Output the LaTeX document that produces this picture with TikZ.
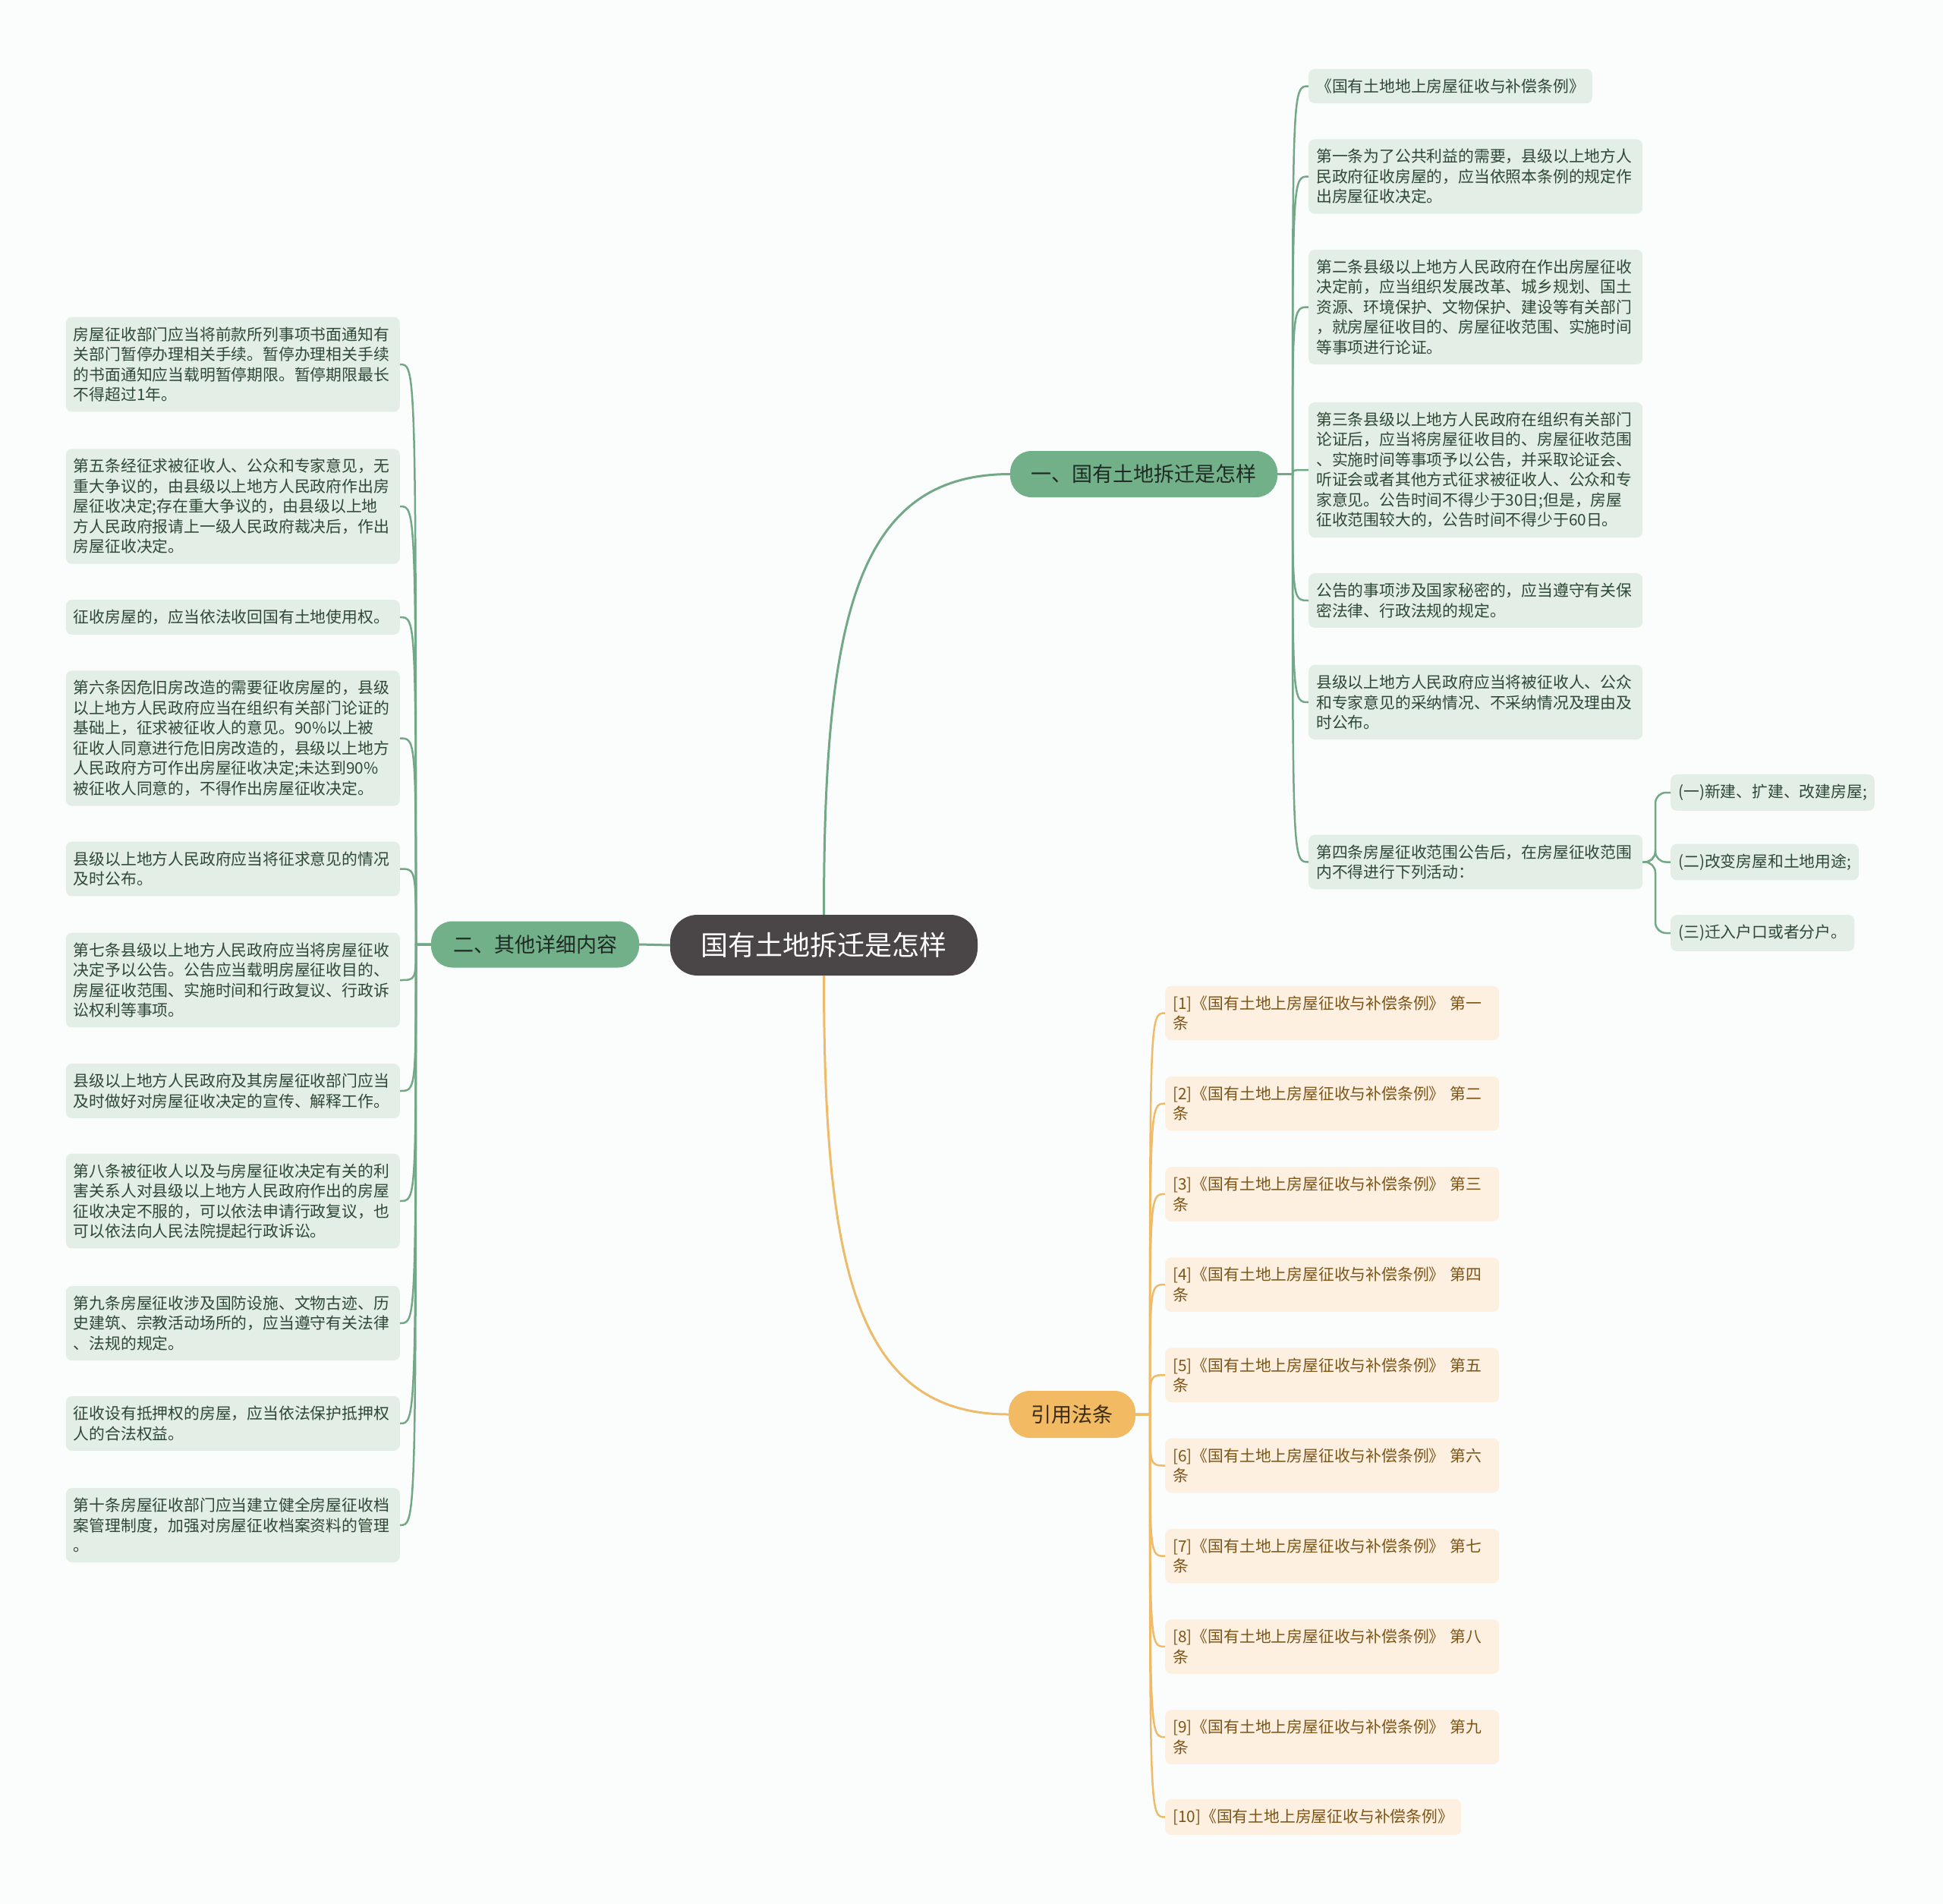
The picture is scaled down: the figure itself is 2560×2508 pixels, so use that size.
\documentclass[tikz,border=0pt]{standalone}
\usepackage{fontspec}
\setmainfont{Noto Sans CJK SC}
\usetikzlibrary{calc}
\definecolor{bgc}{HTML}{FBFDFD}
\definecolor{rootc}{HTML}{4A4546}
\definecolor{gbr}{HTML}{72B08A}
\definecolor{gln}{HTML}{72A886}
\definecolor{glf}{HTML}{E3EFE6}
\definecolor{gtx}{HTML}{2E4736}
\definecolor{gbrtx}{HTML}{1E2A22}
\definecolor{obr}{HTML}{F1BA63}
\definecolor{oln}{HTML}{EDBB6A}
\definecolor{olf}{HTML}{FDF0E1}
\definecolor{otx}{HTML}{7C5516}
\definecolor{obrtx}{HTML}{3B2B12}
\tikzset{
  rootnode/.style={fill=rootc, text=white, rounded corners=36pt, minimum height=80pt, inner xsep=0pt, inner ysep=0pt, font=\fontsize{36}{40}\selectfont},
  gbranch/.style={fill=gbr, text=gbrtx, rounded corners=28pt, minimum height=61pt, inner sep=0pt, font=\fontsize{27}{30}\selectfont},
  obranch/.style={fill=obr, text=obrtx, rounded corners=28pt, minimum height=62pt, inner sep=0pt, font=\fontsize{27}{30}\selectfont},
  leafbase/.style={rounded corners=8pt, inner xsep=10pt, inner ysep=13pt, align=left, font=\fontsize{20.8}{26.5}\selectfont},
  gleaf/.style={leafbase, fill=glf, text=gtx, text width=420pt},
  gleafnt/.style={leafbase, fill=glf, text=gtx},
  oleaf/.style={leafbase, fill=olf, text=otx, text width=420pt},
  oleafnt/.style={leafbase, fill=olf, text=otx},
  gmain/.style={draw=gln, line width=3pt},
  omain/.style={draw=oln, line width=3pt},
  gline/.style={draw=gln, line width=2.5pt},
  oline/.style={draw=oln, line width=2.5pt},
}
\begin{document}
\begin{tikzpicture}[x=1pt,y=-1pt]
\fill[bgc] (0,0) rectangle (2560,2508);
\useasboundingbox (0,0) rectangle (2560,2508);

% root and branches
\node[rootnode, minimum width=405pt] (root) at (1085.5,1245) {国有土地拆迁是怎样};
\node[gbranch, minimum width=352pt] (b1) at (1507,624.5) {一、国有土地拆迁是怎样};
\node[gbranch, minimum width=274pt] (b2) at (705,1244) {二、其他详细内容};
\node[obranch, minimum width=167pt] (b3) at (1412.5,1863) {引用法条};

\coordinate (j1) at (1703,624.5);
\coordinate (j2) at (548,1244);
\coordinate (j3) at (1515,1863);
\coordinate (k1) at (2181,1135.5);

% right green leaves
\node[gleafnt, anchor=west] (r1) at (1724,113.5) {《国有土地地上房屋征收与补偿条例》};
\node[gleaf, anchor=west] (r2) at (1724,232.5) {第一条为了公共利益的需要，县级以上地方人\\民政府征收房屋的，应当依照本条例的规定作\\出房屋征收决定。};
\node[gleaf, anchor=west] (r3) at (1724,404.5) {第二条县级以上地方人民政府在作出房屋征收\\决定前，应当组织发展改革、城乡规划、国土\\资源、环境保护、文物保护、建设等有关部门\\，就房屋征收目的、房屋征收范围、实施时间\\等事项进行论证。};
\node[gleaf, anchor=west] (r4) at (1724,619) {第三条县级以上地方人民政府在组织有关部门\\论证后，应当将房屋征收目的、房屋征收范围\\、实施时间等事项予以公告，并采取论证会、\\听证会或者其他方式征求被征收人、公众和专\\家意见。公告时间不得少于30日;但是，房屋\\征收范围较大的，公告时间不得少于60日。};
\node[gleaf, anchor=west] (r5) at (1724,791) {公告的事项涉及国家秘密的，应当遵守有关保\\密法律、行政法规的规定。};
\node[gleaf, anchor=west] (r6) at (1724,925) {县级以上地方人民政府应当将被征收人、公众\\和专家意见的采纳情况、不采纳情况及理由及\\时公布。};
\node[gleaf, anchor=west] (r7) at (1724,1135.5) {第四条房屋征收范围公告后，在房屋征收范围\\内不得进行下列活动：};

\node[gleafnt, anchor=west] (s1) at (2201,1044) {(一)新建、扩建、改建房屋;};
\node[gleafnt, anchor=west] (s2) at (2201,1135.5) {(二)改变房屋和土地用途;};
\node[gleafnt, anchor=west] (s3) at (2201,1229) {(三)迁入户口或者分户。};

% left green leaves
\node[gleaf, anchor=east] (l1) at (527,480) {房屋征收部门应当将前款所列事项书面通知有\\关部门暂停办理相关手续。暂停办理相关手续\\的书面通知应当载明暂停期限。暂停期限最长\\不得超过1年。};
\node[gleaf, anchor=east] (l2) at (527,667) {第五条经征求被征收人、公众和专家意见，无\\重大争议的，由县级以上地方人民政府作出房\\屋征收决定;存在重大争议的，由县级以上地\\方人民政府报请上一级人民政府裁决后，作出\\房屋征收决定。};
\node[gleaf, anchor=east] (l3) at (527,813) {征收房屋的，应当依法收回国有土地使用权。};
\node[gleaf, anchor=east] (l4) at (527,972.5) {第六条因危旧房改造的需要征收房屋的，县级\\以上地方人民政府应当在组织有关部门论证的\\基础上，征求被征收人的意见。90\%以上被\\征收人同意进行危旧房改造的，县级以上地方\\人民政府方可作出房屋征收决定;未达到90\%\\被征收人同意的，不得作出房屋征收决定。};
\node[gleaf, anchor=east] (l5) at (527,1144.5) {县级以上地方人民政府应当将征求意见的情况\\及时公布。};
\node[gleaf, anchor=east] (l6) at (527,1291) {第七条县级以上地方人民政府应当将房屋征收\\决定予以公告。公告应当载明房屋征收目的、\\房屋征收范围、实施时间和行政复议、行政诉\\讼权利等事项。};
\node[gleaf, anchor=east] (l7) at (527,1437) {县级以上地方人民政府及其房屋征收部门应当\\及时做好对房屋征收决定的宣传、解释工作。};
\node[gleaf, anchor=east] (l8) at (527,1582) {第八条被征收人以及与房屋征收决定有关的利\\害关系人对县级以上地方人民政府作出的房屋\\征收决定不服的，可以依法申请行政复议，也\\可以依法向人民法院提起行政诉讼。};
\node[gleaf, anchor=east] (l9) at (527,1743) {第九条房屋征收涉及国防设施、文物古迹、历\\史建筑、宗教活动场所的，应当遵守有关法律\\、法规的规定。};
\node[gleaf, anchor=east] (l10) at (527,1875) {征收设有抵押权的房屋，应当依法保护抵押权\\人的合法权益。};
\node[gleaf, anchor=east] (l11) at (527,2009) {第十条房屋征收部门应当建立健全房屋征收档\\案管理制度，加强对房屋征收档案资料的管理\\。};

% orange leaves
\node[oleaf, anchor=west] (o1) at (1535,1334.5) {[1]《国有土地上房屋征收与补偿条例》 第一\\条};
\node[oleaf, anchor=west] (o2) at (1535,1453.7) {[2]《国有土地上房屋征收与补偿条例》 第二\\条};
\node[oleaf, anchor=west] (o3) at (1535,1572.9) {[3]《国有土地上房屋征收与补偿条例》 第三\\条};
\node[oleaf, anchor=west] (o4) at (1535,1692.1) {[4]《国有土地上房屋征收与补偿条例》 第四\\条};
\node[oleaf, anchor=west] (o5) at (1535,1811.3) {[5]《国有土地上房屋征收与补偿条例》 第五\\条};
\node[oleaf, anchor=west] (o6) at (1535,1930.5) {[6]《国有土地上房屋征收与补偿条例》 第六\\条};
\node[oleaf, anchor=west] (o7) at (1535,2049.7) {[7]《国有土地上房屋征收与补偿条例》 第七\\条};
\node[oleaf, anchor=west] (o8) at (1535,2168.9) {[8]《国有土地上房屋征收与补偿条例》 第八\\条};
\node[oleaf, anchor=west] (o9) at (1535,2288.1) {[9]《国有土地上房屋征收与补偿条例》 第九\\条};
\node[oleafnt, anchor=west] (o10) at (1535,2393.5) {[10]《国有土地上房屋征收与补偿条例》};

% main connectors
\draw[gmain] (root.north) .. controls ($(root.north)+(0,-388)$) and ($(b1.west)+(-204,0)$) .. (b1.west);
\draw[omain] (root.south) .. controls ($(root.south)+(0,383)$) and ($(b3.west)+(-202,0)$) .. (b3.west);
\draw[gmain] (root.west) -- (b2.east);

% leaf connectors
\foreach \n in {r1,r2,r3,r4,r5,r6,r7}
  \draw[gline] (b1.east) -- (j1) .. controls (j1 |- \n.west) .. (\n.west);
\foreach \n in {l1,l2,l3,l4,l5,l6,l7,l8,l9,l10,l11}
  \draw[gline] (b2.west) -- (j2) .. controls (j2 |- \n.east) .. (\n.east);
\foreach \n in {o1,o2,o3,o4,o5,o6,o7,o8,o9,o10}
  \draw[oline] (b3.east) -- (j3) .. controls (j3 |- \n.west) .. (\n.west);
\foreach \n in {s1,s2,s3}
  \draw[gline, rounded corners=14pt] (r7.east) -- (k1) |- (\n.west);
\end{tikzpicture}
\end{document}
